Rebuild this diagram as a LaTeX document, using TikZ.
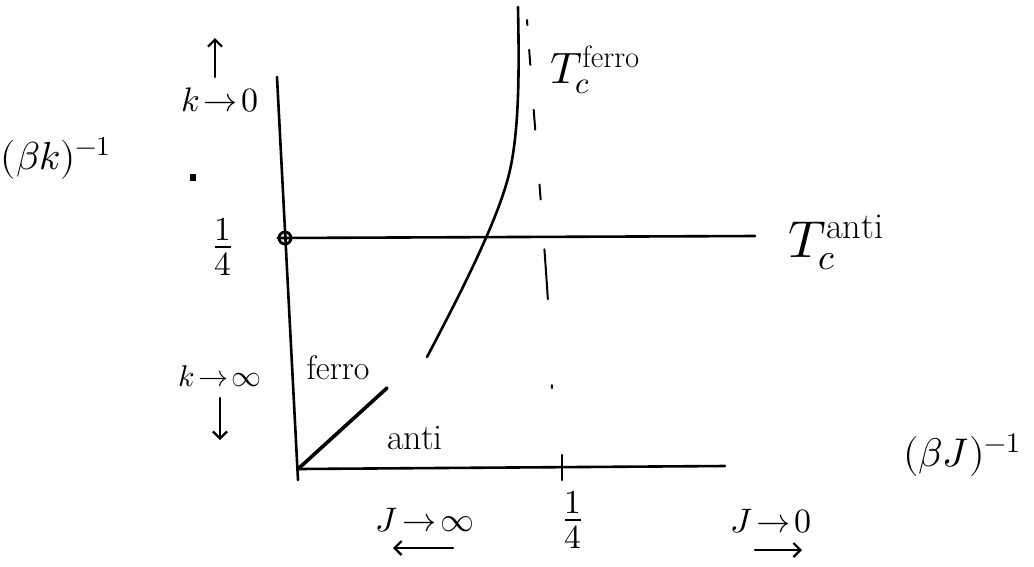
\documentclass[tikz,border=0pt]{standalone}
\usepackage{amsmath}
\usepackage{unicode-math}
\usepackage{tikz}
\usetikzlibrary{
    arrows.meta,
    positioning
}

\begin{document}
\begin{tikzpicture}[
        x=1pt, y=-1pt,
        >=Stealth,
        axis/.style={line width=2.6pt, line cap=round},
        lbl/.style={inner sep=0pt, font=\fontsize{34}{40}\selectfont},
        dirarrow/.style={->, line width=2.2pt, line cap=round,
            >={Straight Barb[length=7pt,width=14pt,line width=2.2pt]}}
    ]
        \useasboundingbox (0,0) rectangle (1034,566);

        % axes
        \coordinate (O) at (298,469);
        \coordinate (ytop) at (277,77);
        \coordinate (ybot) at (298,480);
        \coordinate (xend) at (725,466);
        \draw[axis] (ytop) -- (ybot);
        \draw[axis] (O) -- (xend);

        % T_c anti line with marker on the axis
        \node[circle, draw, line width=2.8pt, minimum size=12pt, inner sep=0pt] (quart) at (285,238) {};
        \coordinate (antiend) at (755,236);
        \draw[axis] (quart.west) -- (antiend);

        % T_c ferro curve
        \coordinate (fbot) at (427,357);
        \coordinate (ftop) at (518,7);
        \draw[axis] (fbot) .. controls (465,285) and (500,215) .. (510,170)
            .. controls (520,125) and (519,60) .. (ftop);

        % asymptote at 1/4
        \coordinate (asytop) at (527,20);
        \coordinate (asybot) at (552,390);
        \draw[line width=2pt, line cap=round,
            dash pattern=on 5pt off 25pt on 15pt off 45pt on 20pt off 55pt on 15pt off 50pt on 50pt off 86pt on 3pt off 100pt]
            (asytop) .. controls (540,200) and (550,300) .. (asybot);

        % tick at 1/4 on the J axis
        \coordinate (ticktop) at (562,455);
        \coordinate (tickbot) at (562,480);
        \draw[axis] (ticktop) -- (tickbot);

        % ferro / anti separation
        \coordinate (sep) at (387,388);
        \draw[line width=3.6pt, line cap=round] (O) -- (sep);

        % stray mark
        \fill (190,174) rectangle (196,181);

        % vertical axis labels
        \node[lbl, font=\fontsize{39}{44}\selectfont] (kaxis) at (56,158) {$(\beta k)^{-1}$};
        \node[lbl] (kzero) at (220,100) {$k\!\to\! 0$};
        \coordinate (upbot) at (215,77);
        \coordinate (uptop) at (215,38);
        \draw[dirarrow] (upbot) -- (uptop);
        \node[lbl, font=\fontsize{48}{54}\selectfont] (yquarter) at (223,247) {$\tfrac{1}{4}$};
        \node[lbl, font=\fontsize{30}{36}\selectfont] (kinf) at (220,376) {$k\!\to\!\infty$};
        \coordinate (dntop) at (220,398);
        \coordinate (dnbot) at (220,440);
        \draw[dirarrow] (dntop) -- (dnbot);

        % region labels
        \node[lbl, font=\fontsize{34}{40}\selectfont] (ferro) at (338,368) {ferro};
        \node[lbl, font=\fontsize{36}{40}\selectfont] (anti) at (415,438) {anti};

        % horizontal axis labels
        \node[lbl] (Jinf) at (425,520) {$J\!\to\!\infty$};
        \coordinate (lfright) at (453,548);
        \coordinate (lfleft) at (393,548);
        \draw[dirarrow] (lfright) -- (lfleft);
        \node[lbl, font=\fontsize{48}{54}\selectfont] (xquarter) at (573,520) {$\tfrac{1}{4}$};
        \node[lbl] (Jzero) at (771,521) {$J\!\to\! 0$};
        \coordinate (rtleft) at (755,550);
        \coordinate (rtright) at (802,550);
        \draw[dirarrow] (rtleft) -- (rtright);
        \node[lbl, font=\fontsize{40}{46}\selectfont] (Jaxis) at (962,455) {$(\beta J)^{-1}$};

        % critical temperatures
        \node[lbl, anchor=base west, font=\fontsize{44}{50}\selectfont] (Tferro) at (550,83) {$T_c^{\mathrm{ferro}}$};
        \node[lbl, anchor=base west, font=\fontsize{52}{58}\selectfont] (Tanti) at (788,257) {$T_c^{\mathrm{anti}}$};
\end{tikzpicture}
\end{document}
